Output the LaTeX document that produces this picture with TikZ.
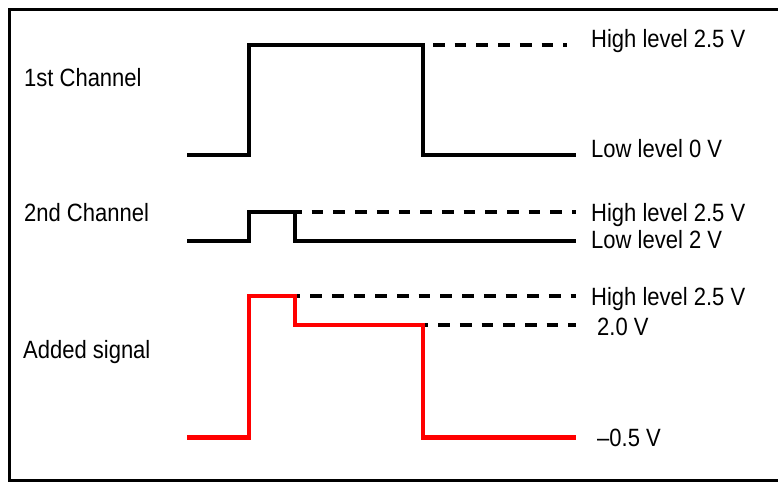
\documentclass[tikz,border=0pt]{standalone}
\usepackage{fontspec}
\setmainfont{Liberation Sans}[FakeStretch=0.88]
\definecolor{sigred}{RGB}{255,0,0}
\begin{document}
\begin{tikzpicture}[x=1pt,y=-1pt,
  lbl/.style={anchor=base west,inner sep=0pt,font=\fontsize{25}{29}\selectfont},
  sig/.style={line width=4.2pt,line join=miter,line cap=butt},
  lvl/.style={line width=4.2pt,dash pattern=on 11.7pt off 10pt},
  frame/.style={line width=3pt}]
\useasboundingbox (0,0) rectangle (778,483);
\fill[white] (0,0) rectangle (778,483);
% frame (open on the right)
\draw[frame] (778,9.5) -- (9.5,9.5) -- (9.5,480) -- (778,480);
% labels left
\node[lbl] (c1) at (24,86) {1st Channel};
\node[lbl] (c2) at (24,221) {2nd Channel};
\node[lbl] (c3) at (23,358) {Added signal};
% labels right
\node[lbl] (h1) at (591,47) {High level 2.5 V};
\node[lbl] (l1) at (591,157) {Low level 0 V};
\node[lbl] (h2) at (591,221.5) {High level 2.5 V};
\node[lbl] (l2) at (591,248.5) {Low level 2 V};
\node[lbl] (h3) at (591,305) {High level 2.5 V};
\node[lbl] (m3) at (597,335) {2.0 V};
\node[lbl] (l3) at (597,446) {\textendash0.5 V};
% level dashed lines
\draw[lvl,dash phase=11.7pt] (423,45) -- (567,45);
\draw[lvl,dash phase=5pt] (295,212) -- (576,212);
\draw[lvl,dash phase=6.5pt] (295,296) -- (576,296);
\draw[lvl,dash phase=6.5pt] (423,325) -- (576,325);
% channel 1
\draw[sig] (187,155) -- (249,155) -- (249,45) -- (423,45) -- (423,155) -- (576,155);
% channel 2
\draw[sig] (187,241) -- (249,241) -- (249,212) -- (295,212) -- (295,241) -- (576,241);
% added signal
\draw[sig,sigred] (187,437.5) -- (249,437.5) -- (249,296) -- (295,296) -- (295,325) -- (423,325) -- (423,437.5) -- (576,437.5);
\end{tikzpicture}
\end{document}
